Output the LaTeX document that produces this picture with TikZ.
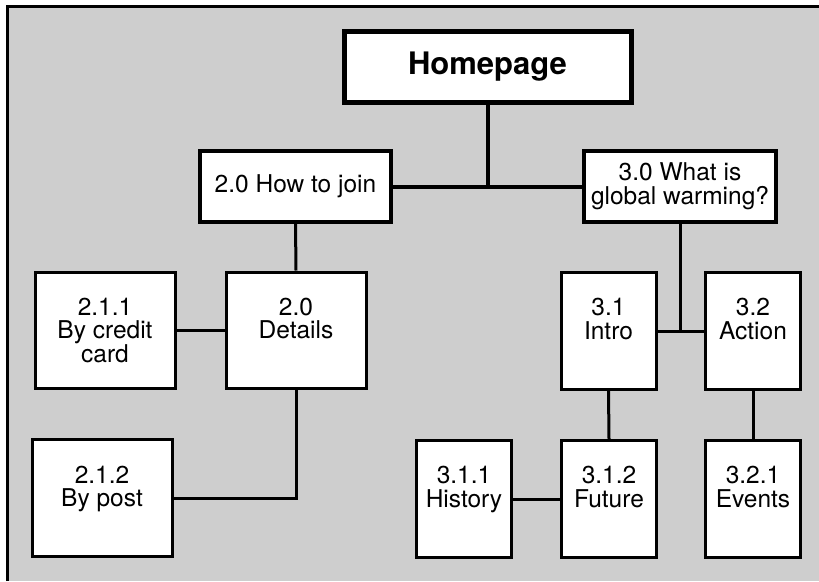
\documentclass[tikz,border=0pt]{standalone}
\usepackage{fontspec}
\setmainfont{TeX Gyre Heros}
\definecolor{panelgray}{RGB}{206,206,206}
\begin{document}
\begin{tikzpicture}[x=1pt,y=-1pt,
  basebox/.style={draw=black, fill=white, align=center, inner sep=0pt,
    font=\fontsize{24.5}{23.7}\selectfont},
  topbox/.style={basebox, line width=4pt, minimum width=191pt, minimum height=71pt},
  leafbox/.style={basebox, line width=3pt, minimum width=95pt, minimum height=117pt},
  widebox/.style={leafbox, minimum width=140pt},
  rootbox/.style={basebox, line width=5pt, minimum width=287pt, minimum height=71.5pt,
    font=\fontsize{31}{32}\selectfont\bfseries},
  mainlink/.style={draw=black, line width=4pt},
  sublink/.style={draw=black, line width=3pt}]

\useasboundingbox (0,0) rectangle (819,581);

% grey panel with its top and left frame
\fill[panelgray] (6,6) rectangle (819,581);
\draw[line width=3pt, line join=miter] (7.5,581) -- (7.5,6.5) -- (819,6.5);

% site map boxes
\node[rootbox] (home) at (487.5,66.75) {Homepage};
\node[topbox] (join) at (295.5,186.5) {2.0 How to join};
\node[topbox, minimum width=192pt] (warm) at (680,186.5) {3.0 What is\\global warming?};

\node[widebox, minimum height=116.5pt] (details) at (296,330.25) {2.0\\Details\\\mbox{}};
\node[widebox, minimum height=116.5pt] (credit) at (105,330.25) {2.1.1\\By credit\\card};
\node[widebox] (post) at (102,498.25) {2.1.2\\By post\\\mbox{}};

\node[leafbox] (intro) at (608.5,331) {3.1\\Intro\\\mbox{}};
\node[leafbox] (action) at (753,331) {3.2\\Action\\\mbox{}};
\node[leafbox] (history) at (464,499) {3.1.1\\History\\\mbox{}};
\node[leafbox] (future) at (609,499) {3.1.2\\Future\\\mbox{}};
\node[leafbox] (events) at (753,499) {3.2.1\\Events\\\mbox{}};

% connectors
\draw[mainlink] (join.east) -- (warm.west);
\draw[mainlink] (home.south) -- (home.south |- join.east);
\draw[sublink] (join.south) -- (details.north);
\draw[sublink] (credit.east) -- (details.west);
\draw[sublink] (details.south) -- (details.south |- post.east) -- (post.east);
\draw[sublink] (warm.south) -- (warm.south |- intro.east);
\draw[sublink] (intro.east) -- (action.west);
\draw[sublink] (intro.south) -- (future.north);
\draw[sublink] (history.east) -- (future.west);
\draw[sublink] (action.south) -- (events.north);
\end{tikzpicture}
\end{document}
